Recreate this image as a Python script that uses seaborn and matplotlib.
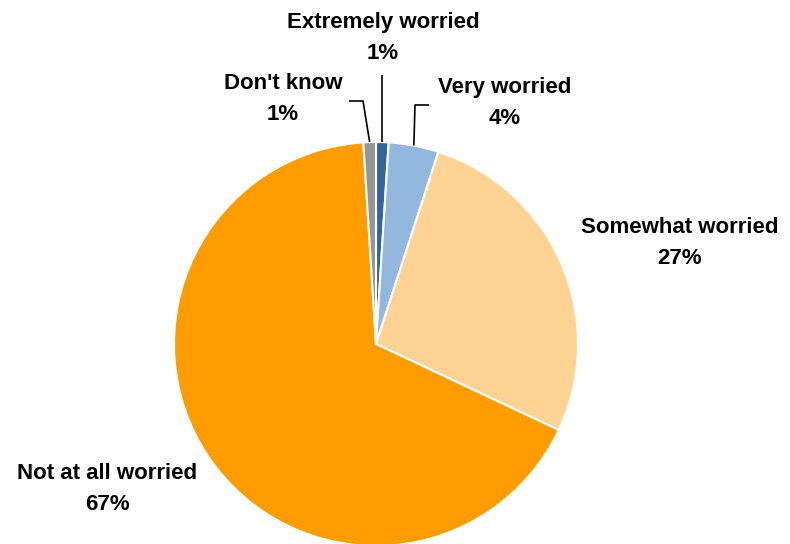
import numpy as np
import matplotlib
matplotlib.use("Agg")
import matplotlib.pyplot as plt
import seaborn as sns

# slices, clockwise from 12 o'clock
labels = ["Extremely worried", "Very worried", "Somewhat worried",
          "Not at all worried", "Don't know"]
shares = [1, 4, 27, 67, 1]
colors = ["#31659C", "#93B8DD", "#FFD393", "#FF9C00", "#969696"]

sns.set_theme(style="white")
plt.rcParams["font.family"] = ["Liberation Sans", "DejaVu Sans"]

W, H = 790, 544
fig = plt.figure(figsize=(W / 100, H / 100), dpi=100)
# pie centre (376, 344) px, radius 202 px
cx, cy, r = 376, 344, 202
ax = fig.add_axes([(cx - r) / W, (H - cy - r) / H, 2 * r / W, 2 * r / H])
wedges, _ = ax.pie(shares, colors=colors, startangle=90, counterclock=False,
                   radius=1, wedgeprops=dict(edgecolor="white", linewidth=1.5))
ax.set_xlim(-1, 1)
ax.set_ylim(-1, 1)
ax.set_aspect("auto")
ax.set_axis_off()


def px(x, y):
    # pixel position -> pie data coords
    return (x - cx) / r, (cy - y) / r


def mid(w):
    a = np.deg2rad((w.theta1 + w.theta2) / 2)
    return np.cos(a), np.sin(a)


txt = dict(fontsize=16, fontweight="bold", ha="center", va="center",
           linespacing=1.62, color="black", clip_on=False)

# label centres in pixels
label_pos = [(383, 38), (505, 103), (680, 243), (107, 489), (283, 99)]
for lab, s, (lx, ly) in zip(labels, shares, label_pos):
    x, y = px(lx, ly)
    ax.text(x, y, f"{lab}\n{s}%", **txt)

# leader lines
line = dict(color="black", lw=1.2, clip_on=False, solid_capstyle="butt")
x0, y0 = mid(wedges[0])
ax.plot([x0, x0], [y0, px(0, 75)[1]], **line)
x1, y1 = mid(wedges[1])
ax.plot([x1, px(415, 0)[0], px(429, 0)[0]], [y1, px(0, 105)[1], px(0, 105)[1]], **line)
x4, y4 = mid(wedges[4])
ax.plot([x4, px(363, 0)[0], px(349, 0)[0]], [y4, px(0, 101)[1], px(0, 101)[1]], **line)

fig.savefig("out.png", dpi=100, facecolor="white")
